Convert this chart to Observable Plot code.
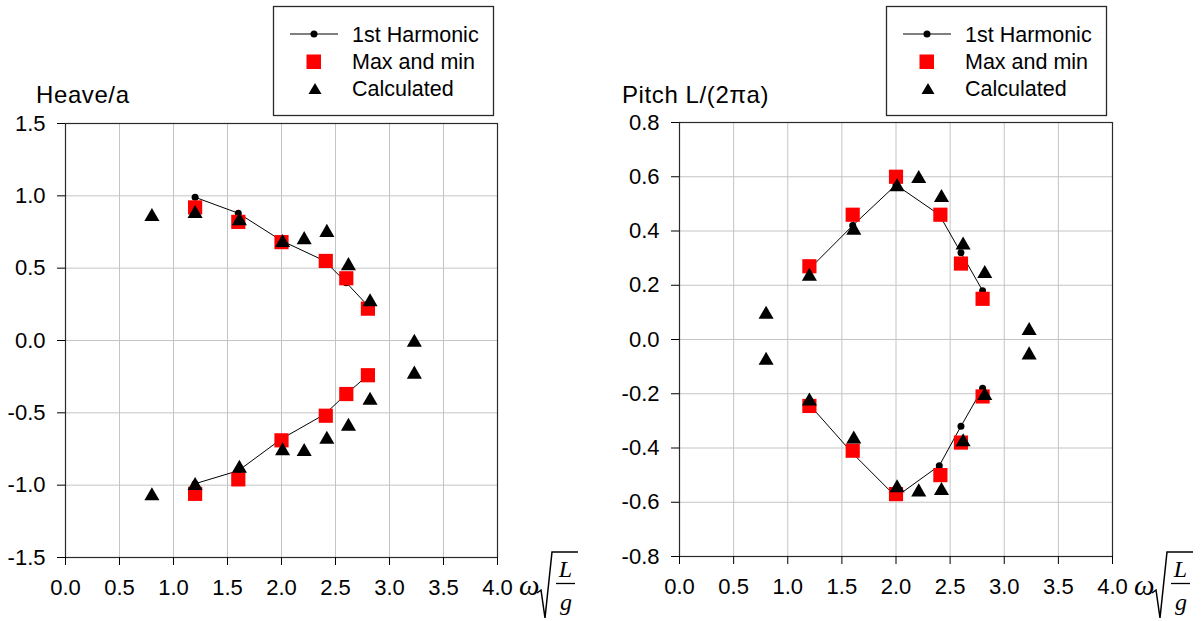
<!DOCTYPE html>
<html>
<head>
<meta charset="utf-8">
<script src="https://cdn.jsdelivr.net/npm/d3@7"></script>
<script src="https://cdn.jsdelivr.net/npm/@observablehq/plot@0.6"></script>
<style>
  body { margin: 0; background: #fff; }
  #wrap { position: relative; width: 1201px; height: 621px; font-family: "Liberation Sans", Arial, sans-serif; }
  #wrap > svg { position: absolute; top: 0; }
</style>
</head>
<body>
<div id="wrap"></div>
<script>
// Non-dimensional frequency ω·sqrt(L/g)
const freqHarm = [1.2, 1.6, 2.0, 2.4, 2.6, 2.8];
const freqMaxMin = [1.2, 1.6, 2.0, 2.41, 2.6, 2.8];
const freqCalc = [0.8, 1.2, 1.61, 2.01, 2.21, 2.42, 2.62, 2.82, 3.23];

// Heave amplitude / wave amplitude
const heaveHarmUpper = [0.99, 0.88, 0.69, 0.55, 0.40, 0.24];
const heaveHarmLower = [-0.99, -0.90, -0.68, -0.51, -0.37, -0.24];
const heaveMaxUpper = [0.92, 0.82, 0.68, 0.55, 0.43, 0.22];
const heaveMaxLower = [-1.06, -0.96, -0.69, -0.52, -0.37, -0.24];
const heaveCalcUpper = [0.87, 0.89, 0.84, 0.69, 0.71, 0.76, 0.53, 0.28, 0.0];
const heaveCalcLower = [-1.06, -0.99, -0.87, -0.75, -0.755, -0.67, -0.58, -0.40, -0.22];

// Pitch · L / (2π a)
const pitchHarmUpper = [0.26, 0.42, 0.57, 0.46, 0.32, 0.18];
const pitchHarmLower = [-0.24, -0.42, -0.58, -0.465, -0.32, -0.18];
const pitchMaxUpper = [0.27, 0.46, 0.60, 0.46, 0.28, 0.15];
const pitchMaxLower = [-0.245, -0.41, -0.57, -0.50, -0.38, -0.21];
const pitchCalcUpper = [0.10, 0.24, 0.41, 0.57, 0.60, 0.53, 0.355, 0.25, 0.04];
const pitchCalcLower = [-0.07, -0.22, -0.36, -0.54, -0.555, -0.55, -0.37, -0.20, -0.05];

const xTicks = [0, 0.5, 1, 1.5, 2, 2.5, 3, 3.5, 4];
const heaveTicks = [-1.5, -1, -0.5, 0, 0.5, 1, 1.5];
const pitchTicks = [-0.8, -0.6, -0.4, -0.2, 0, 0.2, 0.4, 0.6, 0.8];

const legendLabels = ["1st Harmonic", "Max and min", "Calculated"];

function rows(xs, upper, lower) {
  return [
    ...xs.map((x, i) => ({x, y: upper[i], branch: "upper"})),
    ...xs.map((x, i) => ({x, y: lower[i], branch: "lower"}))
  ];
}

function panel({harm, maxmin, calc, yDomain, yTicks, width, marginLeft, marginRight, marginTop, marginBottom}) {
  const fmt = d => d.toFixed(1);
  return Plot.plot({
    width, height: 621,
    marginLeft, marginRight, marginTop, marginBottom,
    style: {fontSize: "22px", fontFamily: "'Liberation Sans', Arial, sans-serif", color: "#000", background: "transparent", overflow: "visible"},
    x: {domain: [0, 4]},
    y: {domain: yDomain},
    marks: [
      Plot.gridX(xTicks, {stroke: "#c4c4c4", strokeOpacity: 1, strokeWidth: 1}),
      Plot.gridY(yTicks, {stroke: "#c4c4c4", strokeOpacity: 1, strokeWidth: 1}),
      Plot.frame({stroke: "#2a2a2a", strokeWidth: 1.2}),
      Plot.axisX({ticks: xTicks, tickFormat: fmt, tickSize: 8, tickPadding: 14, label: null, stroke: "#000"}),
      Plot.axisY({ticks: yTicks, tickFormat: fmt, tickSize: 8, tickPadding: 12, label: null, stroke: "#000"}),
      Plot.line(harm, {x: "x", y: "y", z: "branch", stroke: "#000", strokeWidth: 1}),
      Plot.dot(harm, {x: "x", y: "y", r: 3.5, fill: "#000", stroke: "none"}),
      Plot.dot(maxmin, {x: "x", y: "y", symbol: "square", r: 8, fill: "#ff0000", stroke: "none"}),
      Plot.dot(calc, {x: "x", y: "y", symbol: "triangle", r: 5.6, fill: "#000", stroke: "none", dy: 2})
    ]
  });
}

const wrap = document.getElementById("wrap");

const heavePlot = panel({
  harm: rows(freqHarm, heaveHarmUpper, heaveHarmLower),
  maxmin: rows(freqMaxMin, heaveMaxUpper, heaveMaxLower),
  calc: rows(freqCalc, heaveCalcUpper, heaveCalcLower),
  yDomain: [-1.5, 1.5], yTicks: heaveTicks,
  width: 600, marginLeft: 65, marginRight: 103, marginTop: 123, marginBottom: 64
});
heavePlot.style.left = "0px";
wrap.appendChild(heavePlot);

const pitchPlot = panel({
  harm: rows(freqHarm, pitchHarmUpper, pitchHarmLower),
  maxmin: rows(freqMaxMin, pitchMaxUpper, pitchMaxLower),
  calc: rows(freqCalc, pitchCalcUpper, pitchCalcLower),
  yDomain: [-0.8, 0.8], yTicks: pitchTicks,
  width: 601, marginLeft: 79, marginRight: 89, marginTop: 122, marginBottom: 65
});
pitchPlot.style.left = "600px";
wrap.appendChild(pitchPlot);

// Titles, legends and the ω√(L/g) axis label
const overlay = d3.select(wrap).append("svg")
  .attr("width", 1201).attr("height", 621)
  .style("left", "0px")
  .style("font-family", "'Liberation Sans', Arial, sans-serif");

function legend(x0) {
  const g = overlay.append("g").attr("transform", `translate(${x0},0)`);
  g.append("rect").attr("x", 273.5).attr("y", 6.5).attr("width", 220).attr("height", 109)
    .attr("fill", "#fff").attr("stroke", "#2a2a2a").attr("stroke-width", 1.3);
  g.append("line").attr("x1", 290).attr("x2", 338).attr("y1", 34).attr("y2", 34).attr("stroke", "#000");
  g.append("circle").attr("cx", 314).attr("cy", 34).attr("r", 3.5).attr("fill", "#000");
  g.append("rect").attr("x", 306.5).attr("y", 54.5).attr("width", 14.5).attr("height", 14.5).attr("fill", "#ff0000");
  g.append("path").attr("d", "M315,83 L321.5,94 L308.5,94 Z").attr("fill", "#000");
  legendLabels.forEach((t, i) => {
    g.append("text").attr("x", 352).attr("y", [35, 62, 88.5][i])
      .attr("dominant-baseline", "central").attr("font-size", 21.5).text(t);
  });
}
legend(0);
legend(613);

overlay.append("text").attr("x", 36).attr("y", 103).attr("font-size", 24).attr("letter-spacing", 0.6).text("Heave/a");
overlay.append("text").attr("x", 622).attr("y", 103).attr("font-size", 24).attr("letter-spacing", 0.6).text("Pitch L/(2πa)");

function omegaLabel(x0) {
  const g = overlay.append("g").attr("transform", `translate(${x0},0)`)
    .style("font-family", "'Liberation Serif', 'Times New Roman', serif").style("font-style", "italic");
  g.append("text").attr("x", 519).attr("y", 595).attr("font-size", 29).text("ω");
  g.append("path").attr("d", "M537,593 L541,590 L545,618 L552,552 L578,552")
    .attr("fill", "none").attr("stroke", "#000").attr("stroke-width", 1.5);
  g.append("line").attr("x1", 556).attr("x2", 575).attr("y1", 583.5).attr("y2", 583.5).attr("stroke", "#000").attr("stroke-width", 1.3);
  g.append("text").attr("x", 565.5).attr("y", 577).attr("text-anchor", "middle").attr("font-size", 24).text("L");
  g.append("text").attr("x", 566).attr("y", 610).attr("text-anchor", "middle").attr("font-size", 24).text("g");
}
omegaLabel(0);
omegaLabel(615);
</script>
</body>
</html>
